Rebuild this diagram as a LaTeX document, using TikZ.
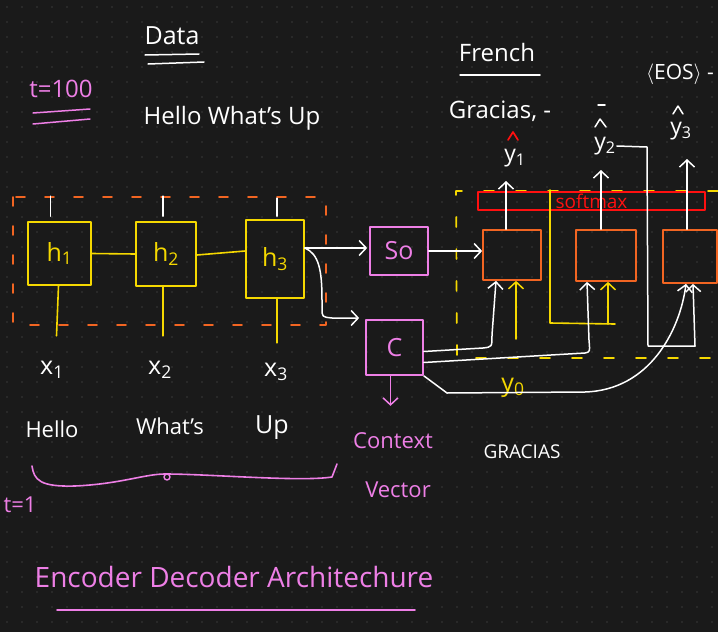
\documentclass[tikz,border=0pt]{standalone}
\usepackage{fontspec}
\setmainfont{Open Sans}
\usetikzlibrary{arrows.meta,calc}
\definecolor{bg}{HTML}{1A1A1A}
\definecolor{dotc}{HTML}{3A3A3A}
\definecolor{yel}{HTML}{F5D800}
\definecolor{org}{HTML}{F26522}
\definecolor{pnk}{HTML}{EE7FE6}
\definecolor{rd}{HTML}{FF1010}
\newcommand{\fs}[1]{\fontsize{#1}{#1}\selectfont}
\begin{document}
\begin{tikzpicture}[x=1pt,y=-1pt,
  line cap=round, line join=round,
  txt/.style={text=white, inner sep=1pt, font=\fs{22}},
  ptxt/.style={txt, text=pnk},
  ybox/.style={draw=yel, line width=1.7pt, inner sep=0pt, text=yel, font=\fs{25}},
  pbox/.style={draw=pnk, line width=1.7pt, inner sep=0pt, text=pnk, font=\fs{25}},
  obox/.style={draw=org, line width=1.7pt, inner sep=0pt, minimum width=58pt, minimum height=50pt},
  wline/.style={draw=white, line width=1.5pt},
  yline/.style={draw=yel, line width=1.6pt},
  hatw/.style={draw=white, line width=1.5pt},
  tip/.style={-{Straight Barb[length=7pt,width=15pt,line width=1.5pt]}},
  warr/.style={wline, tip},
  yarr/.style={yline, tip},
  parr/.style={draw=pnk, line width=1.5pt, tip}
]
\fill[bg] (0,0) rectangle (718,632);
\useasboundingbox (0,0) rectangle (718,632);
\foreach \i in {0,...,47} \foreach \j in {0,...,42} \fill[dotc] (\i*15+7,\j*15+7) circle[radius=0.8pt];

% ---------- headings ----------
\node[txt, font=\fs{25}] (data) at (172,36) {Data};
\draw[wline] (145,55) -- (199,54);
\draw[wline] (148,64) -- (204,62);
\node[ptxt, font=\fs{24}] (t100) at (61,89) {t=100};
\draw[draw=pnk, line width=1.5pt] (33,113) -- (90,109);
\draw[draw=pnk, line width=1.5pt] (33,124) -- (90,119);
\node[txt, font=\fs{24}] (hwu) at (232,118) {Hello What's Up};

\node[txt, font=\fs{24}] (french) at (497,52) {French};
\draw[wline] (460,75) -- (540,75);
\node[txt, font=\fs{24}] (gracias) at (500,111) {Gracias, -};

% ---------- encoder ----------
\draw[draw=org, line width=1.8pt, dash pattern=on 9pt off 20pt] (13,197) rectangle (326,325);

\node[ybox, minimum width=63pt, minimum height=63pt] (h1) at (59.5,253.5) {h\textsubscript{1}};
\node[ybox, minimum width=60pt, minimum height=64pt] (h2) at (166,254) {h\textsubscript{2}};
\node[ybox, minimum width=58pt, minimum height=78pt] (h3) at (275,259) {h\textsubscript{3}};

\draw[yline] (h1.east) -- (h2.west);
\draw[yline] ([yshift=-1pt]h2.east) -- ([yshift=8pt]h3.west);

\draw[wline] ([xshift=-9pt,yshift=5pt]h1.north) -- ++(0,-20);
\draw[wline] ([xshift=-3pt,yshift=5pt]h2.north) -- ++(0,-20);
\draw[wline] ([xshift=2pt,yshift=3pt]h3.north) -- ++(0,-18);

\draw[yline] ([xshift=-1pt]h1.south) -- ++(-2,50);
\draw[yline] ([xshift=-3pt]h2.south) -- ++(0,49);
\draw[yline] ([xshift=2pt]h3.south) -- ++(0,44);

\node[txt, font=\fs{25}] (x1) at (52,370) {x\textsubscript{1}};
\node[txt, font=\fs{25}] (x2) at (160,370) {x\textsubscript{2}};
\node[txt, font=\fs{25}] (x3) at (276,372) {x\textsubscript{3}};

\node[txt] (w1) at (52,429) {Hello};
\node[txt] (w2) at (170,426) {What's};
\node[txt, font=\fs{25}] (w3) at (272,428) {Up};

\draw[draw=pnk, line width=1.6pt] (32,466) .. controls (34,480) and (40,487) .. (75,486)
  .. controls (120,484) and (145,474) .. (165,474) .. controls (210,474) and (300,482) .. (332,477) -- (337,464);
\draw[draw=pnk, line width=1.4pt] (167,477) circle[radius=3pt];
\node[ptxt] (t1) at (20,505) {t=1};

\node[ptxt, font=\fs{28}] (title) at (234,577) {Encoder Decoder Architechure};
\draw[draw=pnk, line width=1.6pt] (57,610) -- (415,610);

% ---------- s0 and context ----------
\node[pbox, minimum width=58pt, minimum height=48pt] (s0) at (399,251) {So};
\node[pbox, minimum width=57pt, minimum height=55pt] (c) at (394.5,347.5) {C};

\coordinate (h3o) at ([yshift=11pt]h3.east);
\draw[warr] (h3o) -- ([xshift=-2pt]h3o -| s0.west);
\draw[warr] (h3o) .. controls +(14,6) and (322,270) .. (322,300) -- (322,308)
  .. controls (322,317) .. (332,318) -- ([xshift=-6pt,yshift=29.5pt]c.west);

\draw[parr] ([xshift=-4pt]c.south) -- ++(0,30);
\node[ptxt] (ctx1) at (393,441) {Context};
\node[ptxt] (ctx2) at (398,490) {Vector};

\node[txt, font=\fs{19}] (grac2) at (522,452) {GRACIAS};

% ---------- decoder ----------
\draw[draw=yel, line width=1.7pt, dash pattern=on 10pt off 22pt] (718,191) -- (456,191) -- (457,358) -- (718,358);

\node[obox] (d1) at (512,255) {};
\node[obox, minimum width=60pt, minimum height=51pt] (d2) at (606,255.5) {};
\node[obox, minimum width=54pt, minimum height=53pt] (d3) at (690,256.5) {};

\node[draw=rd, line width=1.7pt, minimum width=227pt, minimum height=18pt, inner sep=0pt,
      text=rd, font=\fs{19}] (sm) at (591.5,201) {softmax};

\draw[warr] (s0.east) -- (s0.east -| d1.west);

% outputs
\node[txt, font=\fs{23}] (y1) at (515,158) {y\textsubscript{1}};
\draw[draw=rd, line width=1.7pt] (508,140) -- (513,132) -- (518,140);
\node[txt, font=\fs{23}] (y2) at (605,146) {y\textsubscript{2}};
\draw[hatw] (595,127) -- (600,119) -- (606,127);
\draw[hatw] (598,105) -- (605,105);
\node[txt, font=\fs{23}] (y3) at (681,131) {y\textsubscript{3}};
\draw[hatw] (673,114) -- (678,106) -- (683,114);
\node[txt, font=\fs{21}] (eos) at (680,74) {$\langle$EOS$\rangle$ -};

\coordinate (o1) at (506,181);
\coordinate (o2) at (601,170);
\coordinate (o3) at (687,159);
\draw[warr] (d1.north -| o1) -- (o1);
\draw[warr] (d2.north -| o2) -- (o2);
\draw[warr] (d3.north -| o3) -- (o3);

% y0 input to d1
\node[text=yel, inner sep=0pt, font=\fs{25}] (y0) at (513,388) {y\textsubscript{0}};
\draw[yarr] (516,339) -- (d1.south -| 516,0);

% y1 fed to d2
\draw[yline] (550,190) -- (550,323) -- (615,324);
\draw[yarr] (608,324) -- (d2.south -| 608,0);

% y2 fed to d3
\draw[wline] (y2.east) -- (647,147) -- (648,346) -- (695,346);
\draw[warr] (695,346) -- ([xshift=3pt]d3.south);

% context vector to every decoder cell
\draw[warr] ([yshift=-4pt]c.east) -- (483,348) .. controls (492,347) .. (492,335) -- ([xshift=-16pt]d1.south);
\draw[warr] ([yshift=-15pt]c.east) -- (585,353) .. controls (590,352) .. (589,340) -- ([xshift=-19pt]d2.south);
\draw[warr] (c.south east) -- (447,393) -- (585,392) .. controls (650,390) and (680,330) .. ([xshift=-4pt]d3.south);

\end{tikzpicture}
\end{document}
